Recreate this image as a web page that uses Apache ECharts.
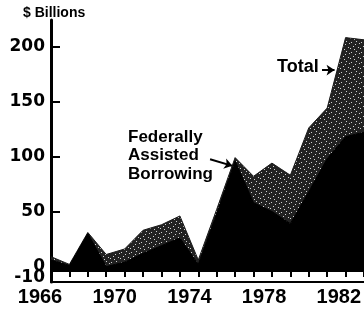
<!DOCTYPE html>
<html>
<head>
<meta charset="utf-8">
<script src="https://cdn.jsdelivr.net/npm/echarts@6/dist/echarts.min.js"></script>
<style>
html,body{margin:0;padding:0;background:#fff;}
#chart{width:364px;height:314px;}
</style>
</head>
<body>
<div id="chart"></div>
<script>
// ---- data ----
var years = [1966,1967,1968,1969,1970,1971,1972,1973,1974,1975,1976,1977,1978,1979,1980,1981,1982,1983];
var totalValues = [9, 2, 31, 11, 16, 33, 38, 46, 6, 52, 99, 82, 94, 83, 126, 144, 208, 206];
var federalValues = [6, 1, 30, 0, 4, 12, 19, 26, 2, 48, 96, 58, 50, 39, 68, 98, 118, 122];
var yTickValues = [0, 50, 100, 150, 200];
var yLabelValues = [0, 50, 100, 150, 200];
var yLowLabelValues = [-10];
var xLabelYears = [1966, 1970, 1974, 1978, 1982];
var unitLabel = '$ Billions';
var totalName = 'Total';
var federalName = 'Federally\nAssisted\nBorrowing';

// stipple texture for the Total area
var pat = document.createElement('canvas');
pat.width = 10; pat.height = 10;
var pc = pat.getContext('2d');
pc.fillStyle = '#222'; pc.fillRect(0,0,10,10);
pc.fillStyle = '#d0d0d0';
[[1,2],[6,1],[3,6],[8,7],[5,4],[0,8],[9,3],[4,9]].forEach(function(p){pc.fillRect(p[0],p[1],1,1);});

function pairs(vals){ return years.map(function(y,i){ return [y, vals[i]]; }); }

var yLabelStyle = {color:'#000', fontFamily:'DejaVu Sans', fontWeight:'bold', fontSize:17};

var chart = echarts.init(document.getElementById('chart'), null, {renderer:'canvas'});
var option = {
  animation: false,
  backgroundColor: '#fff',
  grid: [
    {left: 51, right: 0, top: 20, bottom: 43},
    {left: 51, right: 0, top: 271, bottom: 32},
    {left: 40, right: 18, top: 282, bottom: 31}
  ],
  xAxis: [
    {gridIndex:0, type:'value', min:1966, max:1983, position:'bottom',
     axisLine:{show:false}, axisTick:{show:false}, axisLabel:{show:false}, splitLine:{show:false}},
    {gridIndex:1, type:'value', min:1966, max:1983, interval:1, position:'top',
     axisLine:{onZero:false, lineStyle:{color:'#000', width:2}},
     axisTick:{show:true, inside:true, length:6, lineStyle:{color:'#000', width:2}},
     axisLabel:{show:false}, splitLine:{show:false}},
    {gridIndex:1, type:'value', min:1966, max:1983, position:'bottom',
     axisLine:{onZero:false, lineStyle:{color:'#000', width:2}},
     axisTick:{show:false}, axisLabel:{show:false}, splitLine:{show:false}},
    {gridIndex:2, type:'value', min:1966, max:1982, interval:4, position:'bottom',
     axisLine:{show:false}, axisTick:{show:false}, splitLine:{show:false},
     axisLabel:{show:true, margin:4, color:'#000', fontFamily:'Liberation Sans', fontWeight:'bold', fontSize:20,
       customValues: xLabelYears, formatter:function(v){return String(v);}}}
  ],
  yAxis: [
    {gridIndex:0, type:'value', min:-4, max:224,
     axisLine:{show:true, onZero:false, lineStyle:{color:'#000', width:3}},
     axisTick:{show:true, inside:true, length:9, customValues: yTickValues, lineStyle:{color:'#000', width:2}},
     axisLabel:Object.assign({show:true, margin:6, hideOverlap:false, customValues: yLabelValues,
       formatter:function(v){return String(v);}}, yLabelStyle),
     splitLine:{show:false}},
    {gridIndex:1, type:'value', min:-14, max:-4,
     axisLine:{show:true, onZero:false, lineStyle:{color:'#000', width:3}},
     axisTick:{show:false},
     axisLabel:Object.assign({show:true, margin:6, hideOverlap:false, customValues: yLowLabelValues,
       formatter:function(v){return String(v);}}, yLabelStyle),
     splitLine:{show:false}},
    {gridIndex:2, type:'value', min:0, max:1, show:false}
  ],
  series: [
    {name: totalName, type:'line', xAxisIndex:0, yAxisIndex:0, data: pairs(totalValues),
     symbol:'none', lineStyle:{color:'#1a1a1a', width:1},
     areaStyle:{color:{image:pat, repeat:'repeat'}, opacity:1, origin:'start'},
     markLine:{silent:true, symbol:['none','arrow'], symbolSize:8, label:{show:false},
       lineStyle:{color:'#000', width:2, type:'solid'},
       data:[[{coord:[1980.72, 178.5]}, {coord:[1981.4, 178.5]}]]}},
    {name: 'Federally Assisted Borrowing', type:'line', xAxisIndex:0, yAxisIndex:0, data: pairs(federalValues),
     symbol:'none', lineStyle:{color:'#000', width:1},
     areaStyle:{color:'#000', opacity:1, origin:'start'},
     markLine:{silent:true, symbol:['none','arrow'], symbolSize:8, label:{show:false},
       lineStyle:{color:'#000', width:2, type:'solid'},
       data:[[{coord:[1974.64, 97.5]}, {coord:[1975.85, 91.5]}]]}}
  ],
  graphic: [
    {type:'text', left:23, top:6, style:{text:unitLabel, fill:'#000', font:'bold 14px "Liberation Sans"'}},
    {type:'text', x:277, y:67, style:{text:totalName, fill:'#000', font:'bold 18px "Liberation Sans"', textVerticalAlign:'middle'}},
    {type:'text', x:128, y:155.5, style:{text:federalName, fill:'#000', font:'bold 17px "Liberation Sans"', lineHeight:18.5, textVerticalAlign:'middle'}}
  ]
};
chart.setOption(option);
</script>
</body>
</html>
